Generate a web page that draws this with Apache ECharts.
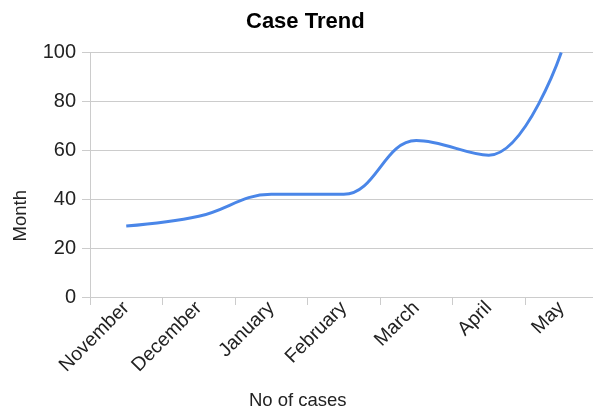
<!DOCTYPE html>
<html>
<head>
<meta charset="utf-8">
<script src="https://cdn.jsdelivr.net/npm/echarts@6/dist/echarts.min.js"></script>
<style>
  html, body { margin: 0; padding: 0; background: #fff; }
  #case-trend { width: 593px; height: 410px; }
</style>
</head>
<body>
<div id="case-trend"></div>
<script>
// 数据
var months = ['November', 'December', 'January', 'February', 'March', 'April', 'May']
var cases = [29, 33, 42, 42, 64, 58, 100]
var yTicks = [0, 20, 40, 60, 80, 100]

var myChart = echarts.init(document.getElementById('case-trend'))
var font = 'Liberation Sans, Arial, sans-serif'

var option = {
  title: {
    text: 'Case Trend',
    left: 241,
    top: 6,
    textStyle: { fontFamily: font, fontSize: 22, fontWeight: 'bold', color: '#000' }
  },
  grid: {
    left: 90,
    right: -4.5,
    top: 52.5,
    bottom: 113,
    containLabel: false,
    outerBoundsMode: 'none'
  },
  xAxis: {
    type: 'category',
    data: months,
    boundaryGap: true,
    name: 'No of cases',
    nameLocation: 'middle',
    nameGap: 94,
    // 往左挪到画布中间
    nameTextStyle: { fontFamily: font, fontSize: 18.5, color: '#222', padding: [0, 92, 0, 0] },
    axisLine: { lineStyle: { color: '#ccc' } },
    axisTick: { show: true, length: 8, lineStyle: { color: '#ccc' } },
    axisLabel: {
      rotate: 45,
      fontFamily: font,
      fontSize: 19.5,
      color: '#222',
      margin: 8
    }
  },
  yAxis: {
    type: 'value',
    min: 0,
    max: 100,
    interval: 20,
    name: 'Month',
    nameLocation: 'middle',
    nameGap: 60,
    // 往下挪一点
    nameTextStyle: { fontFamily: font, fontSize: 18.5, color: '#222', padding: [0, 82, 0, 0] },
    axisLine: { show: true, lineStyle: { color: '#ccc' } },
    axisTick: { show: true, length: 8, lineStyle: { color: '#ccc' } },
    splitLine: { lineStyle: { color: '#ccc' } },
    axisLabel: {
      fontFamily: font,
      fontSize: 20,
      color: '#222',
      margin: 14,
      formatter: function (v) { return yTicks.indexOf(v) >= 0 ? String(v) : '' }
    }
  },
  series: [
    {
      type: 'line',
      data: cases,
      smooth: 0.4,
      showSymbol: false,
      lineStyle: { color: '#4a86e8', width: 3 }
    }
  ],
  animation: false
}
myChart.setOption(option)
</script>
</body>
</html>
